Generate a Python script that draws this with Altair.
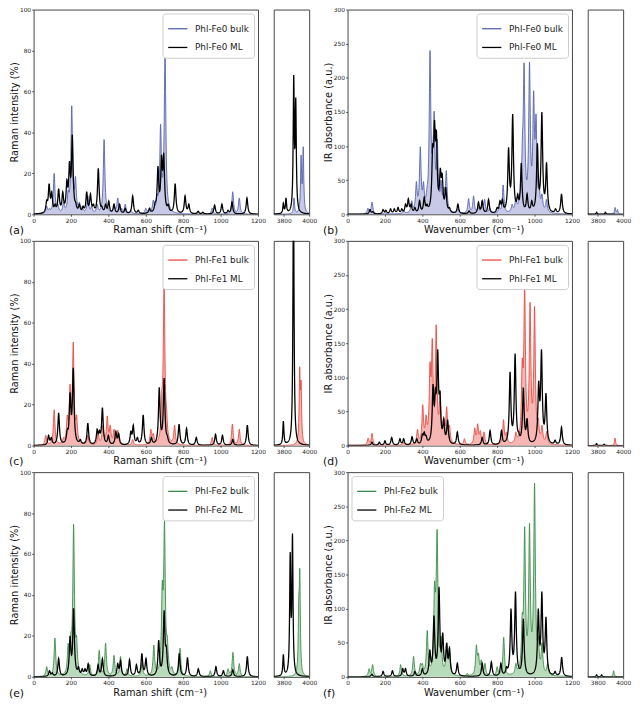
import numpy as np
import pandas as pd
import altair as alt

# ---------------- data: peak positions (cm-1) and heights ----------------
A_BULK_POS = [70, 85, 110, 130, 160, 185, 195, 204, 224, 245, 260, 290, 310, 340, 377, 395, 430, 450, 470, 490, 520, 600, 615, 640, 660, 679, 692, 703, 725, 955, 1065, 1100, 3880, 3936, 3953]
A_BULK_H = [4, 3, 20, 5, 6, 12, 15, 53, 18.5, 6, 4, 9, 4, 5, 36.5, 4, 5, 8, 3, 5, 2, 3, 2, 7, 10, 44, 20, 80, 5, 3, 11, 8, 8, 29, 33]
A_ML_POS = [70, 83, 97, 115, 134, 156, 178, 192, 207, 225, 245, 265, 284, 304, 320, 346, 365, 385, 402, 430, 460, 490, 530, 560, 620, 650, 665, 684, 696, 720, 757, 810, 830, 880, 905, 968, 1007, 1040, 1061, 1141, 3796, 3817, 3878, 3894]
A_ML_H = [7, 15, 11, 5, 12.5, 11, 17, 26, 39, 6, 5, 4, 11, 10, 5, 22.5, 4, 5, 6.5, 5, 5, 3, 9, 2, 3, 6, 23.5, 29, 30, 5, 15, 9, 5, 1.5, 1, 4.5, 5, 2, 6, 8, 5.5, 8, 68, 57]

B_BULK_POS = [109, 131, 200, 300, 343, 368, 389, 406, 425, 441, 455, 463, 480, 500, 515, 528, 590, 647, 674, 700, 720, 733, 760, 810, 832, 880, 900, 920, 935, 944, 960, 973, 985, 995, 1008, 1025, 1040, 1064, 3936, 3955]
B_BULK_H = [9, 18, 3, 6, 20, 48, 99, 48, 40, 240, 100, 151, 110, 50, 40, 64, 8, 23, 27, 10, 18, 22, 10, 10, 43, 15, 25, 30, 115, 222, 40, 223, 45, 181, 147, 40, 30, 22, 10, 7]
B_ML_POS = [120, 135, 190, 205, 230, 250, 270, 290, 310, 325, 340, 360, 385, 410, 425, 455, 465, 475, 496, 506, 525, 545, 590, 650, 700, 720, 754, 800, 815, 828, 861, 883, 910, 929, 960, 985, 1015, 1039, 1064, 1112, 1144, 3790, 3860]
B_ML_H = [7, 4, 7, 6, 8, 8, 10, 8, 15, 23, 15, 10, 20, 25, 15, 103, 138, 123, 68, 60, 40, 10, 15, 5, 18, 20, 22, 10, 20, 22, 98, 147, 30, 75, 30, 20, 104, 150, 76, 8, 30, 3, 3]

C_BULK_POS = [65, 110, 160, 180, 195, 212, 230, 290, 345, 370, 394, 410, 430, 450, 530, 627, 640, 686, 698, 711, 754, 955, 1063, 1100, 3925, 3936]
C_BULK_H = [5, 17.5, 4, 15, 30, 50.5, 15, 5, 6, 10, 14.5, 10, 8, 7.5, 3, 8, 6, 27, 80, 18.5, 10, 4, 10.5, 8, 38.5, 32]
C_ML_POS = [80, 95, 134, 180, 195, 212, 250, 290, 340, 352, 368, 400, 440, 455, 520, 533, 555, 586, 630, 672, 698, 715, 778, 818, 870, 973, 1010, 1065, 1143, 3796, 3876]
C_ML_H = [5, 4, 16, 8, 26, 38, 3, 11, 8, 7.5, 18.5, 5, 7, 6, 7, 10, 4, 15, 4, 28.5, 33, 5, 10.5, 8.5, 4, 5.5, 5, 3, 10, 12, 130]

D_BULK_POS = [110, 131, 200, 300, 374, 402, 420, 441, 453, 474, 495, 515, 530, 545, 625, 680, 696, 710, 730, 834, 850, 900, 934, 947, 960, 976, 988, 1000, 1020, 1040, 1065, 3936]
D_BULK_H = [11, 18, 3, 5, 24, 60, 45, 123, 157, 177, 80, 40, 57, 30, 10, 26, 32, 22, 20, 38, 20, 20, 128, 235, 45, 210, 50, 204, 40, 30, 21, 11]
D_ML_POS = [130, 170, 200, 236, 280, 300, 345, 370, 400, 410, 420, 457, 470, 482, 494, 514, 535, 587, 720, 762, 823, 869, 896, 915, 940, 960, 1022, 1037, 1061, 1110, 1144, 3790, 3850]
D_ML_H = [5, 5, 7, 12, 10, 10, 13, 10, 17, 20, 15, 90, 85, 141, 80, 40, 38, 20, 12, 22, 22, 108, 135, 20, 85, 40, 95, 141, 77, 8, 27, 3, 2]

E_BULK_POS = [70, 114, 185, 200, 214, 230, 300, 351, 385, 430, 465, 500, 580, 643, 688, 700, 715, 740, 783, 945, 1040, 1066, 1100, 3918, 3926]
E_BULK_H = [5, 19, 16.5, 22, 74.5, 20, 6, 13, 16.5, 10.5, 10, 4, 7, 15.5, 47, 76.5, 20, 5, 14, 3, 4, 12, 6.5, 40, 53]
E_ML_POS = [85, 100, 134, 195, 214, 240, 260, 275, 292, 345, 368, 450, 465, 513, 550, 579, 601, 669, 698, 710, 779, 823, 881, 975, 1015, 1065, 1143, 3796, 3850, 3868]
E_ML_H = [3, 2, 9, 20, 33.5, 5, 4, 4, 6.5, 6, 9, 6.5, 8, 8.5, 6, 11.5, 9, 18, 32.5, 15, 11.5, 9.5, 4, 5, 3, 3.5, 10, 11, 61, 70]

F_BULK_POS = [115, 134, 284, 353, 390, 400, 426, 465, 472, 479, 500, 530, 545, 640, 689, 700, 715, 735, 800, 835, 900, 934, 947, 960, 973, 988, 1000, 1020, 1040, 1070, 3925]
F_BULK_H = [12, 18, 18, 30, 20, 20, 68, 140, 130, 216, 60, 50, 45, 5, 47, 35, 25, 20, 15, 58, 20, 93, 220, 60, 225, 70, 284, 60, 50, 20, 9]
F_ML_POS = [130, 190, 240, 295, 310, 360, 400, 440, 462, 489, 509, 530, 545, 587, 720, 769, 820, 850, 874, 898, 940, 1020, 1039, 1061, 1110, 1145, 3790, 3830]
F_ML_H = [4, 8, 9, 12, 12, 8, 12, 40, 90, 132, 65, 50, 42, 20, 20, 22, 20, 15, 100, 125, 85, 100, 125, 88, 8, 29, 3, 3]

SAMPLES = ["Phl-Fe0", "Phl-Fe1", "Phl-Fe2"]
LINE_COLORS = ["#5461ab", "#e8483e", "#3d8a4b"]
FILL_COLORS = ["#c8c9e7", "#f7b6b3", "#b8dbbb"]
RAMAN_TICKS = [0, 20, 40, 60, 80, 100]
IR_TICKS = [0, 50, 100, 150, 200, 250, 300]
X_TICKS = [0, 200, 400, 600, 800, 1000, 1200]
NARROW_TICKS = [3800, 4000]

# ---------------- layout / style ----------------
W, WN, H = 228, 36, 208
GAMMA = 5.0
XMAIN = np.arange(0, 1200.5, 1.0)
XNAR = np.arange(3720, 4000.5, 1.0)
FONT = "DejaVu Sans"


def lorentz(d):
    return GAMMA ** 2 / (d ** 2 + GAMMA ** 2)


def spectrum(pos, h, grid):
    p = np.asarray(pos, float)
    hh = np.asarray(h, float)
    # amplitudes chosen so the summed curve passes through the read peak heights
    A = lorentz(p[:, None] - p[None, :])
    a = hh.copy()
    for _ in range(300):
        a = a * hh / (A @ a)
    return (a[:, None] * lorentz(grid[None, :] - p[:, None])).sum(0)


def frame(pos, h, grid, name):
    return pd.DataFrame({"x": grid, "y": np.round(spectrum(pos, h, grid), 3), "s": name})


def panel(letter, bulk, ml, idx, kind, legend_orient):
    names = [SAMPLES[idx] + " bulk", SAMPLES[idx] + " ML"]
    lc, fc = LINE_COLORS[idx], FILL_COLORS[idx]
    if kind == "raman":
        ymax, yt, ytitle, xtitle = 100, RAMAN_TICKS, "Raman intensity (%)", "Raman shift (cm\u207b\u00b9)"
    else:
        ymax, yt, ytitle, xtitle = 300, IR_TICKS, "IR absorbance (a.u.)", "Wavenumber (cm\u207b\u00b9)"

    bm = frame(bulk[0], bulk[1], XMAIN, names[0])
    mm = frame(ml[0], ml[1], XMAIN, names[1])
    bn = frame(bulk[0], bulk[1], XNAR, names[0])
    mn = frame(ml[0], ml[1], XNAR, names[1])

    x = alt.X("x:Q", scale=alt.Scale(domain=[0, 1200], nice=False, zero=False),
              axis=alt.Axis(values=X_TICKS, title=None, labelFlush=False, format="d"))
    y = alt.Y("y:Q", scale=alt.Scale(domain=[0, ymax], nice=False),
              axis=alt.Axis(values=yt, title=ytitle, labelFlush=False, format="d"))
    color = alt.Color("s:N", scale=alt.Scale(domain=names, range=[lc, "#000000"]),
                      legend=alt.Legend(title=None, orient=legend_orient, offset=4, padding=5,
                                        fillColor="white", strokeColor="#cccccc", cornerRadius=3,
                                        symbolType="stroke", symbolSize=380, symbolStrokeWidth=1.3,
                                        labelFontSize=9, labelFont=FONT, labelColor="#222222",
                                        rowPadding=3, labelOffset=7))
    area = alt.Chart(bm).mark_area(color=fc, clip=True).encode(x=x, y=y)
    bl = alt.Chart(bm).mark_line(clip=True, strokeWidth=0.9).encode(x=x, y=y, color=color)
    ml_ = alt.Chart(mm).mark_line(clip=True, strokeWidth=1.3).encode(x=x, y=y, color=color)
    txt = pd.DataFrame({"t": ["(" + letter + ")", xtitle], "k": ["letter", "title"]})
    lab = alt.Chart(txt).transform_filter(alt.datum.k == "letter").mark_text(
        align="left", baseline="middle", fontSize=11, font=FONT, color="#111111"
    ).encode(text="t:N", x=alt.value(-25), y=alt.value(H + 17))
    xt = alt.Chart(txt).transform_filter(alt.datum.k == "title").mark_text(
        align="center", baseline="middle", fontSize=10, font=FONT, color="#111111"
    ).encode(text="t:N", x=alt.value(W * 0.564), y=alt.value(H + 16))
    main = alt.layer(area, bl, ml_, lab, xt).properties(width=W, height=H)

    xn = alt.X("x:Q", scale=alt.Scale(domain=[3720, 4000], nice=False, zero=False),
               axis=alt.Axis(values=NARROW_TICKS, title=None, labelFlush=False, format="d"))
    yn = alt.Y("y:Q", scale=alt.Scale(domain=[0, ymax], nice=False), axis=None)
    an = alt.Chart(bn).mark_area(color=fc, clip=True).encode(x=xn, y=yn)
    bln = alt.Chart(bn).mark_line(clip=True, strokeWidth=0.9, color=lc).encode(x=xn, y=yn)
    mln = alt.Chart(mn).mark_line(clip=True, strokeWidth=1.3, color="#000000").encode(x=xn, y=yn)
    narrow = alt.layer(an, bln, mln).properties(width=WN, height=H)
    return main, narrow


specs = [
    ("a", (A_BULK_POS, A_BULK_H), (A_ML_POS, A_ML_H), 0, "raman", "top-right"),
    ("b", (B_BULK_POS, B_BULK_H), (B_ML_POS, B_ML_H), 0, "ir", "top-right"),
    ("c", (C_BULK_POS, C_BULK_H), (C_ML_POS, C_ML_H), 1, "raman", "top-right"),
    ("d", (D_BULK_POS, D_BULK_H), (D_ML_POS, D_ML_H), 1, "ir", "top-right"),
    ("e", (E_BULK_POS, E_BULK_H), (E_ML_POS, E_ML_H), 2, "raman", "top-right"),
    ("f", (F_BULK_POS, F_BULK_H), (F_ML_POS, F_ML_H), 2, "ir", "top-left"),
]

RES = dict(x="independent", y="independent", color="independent")
rows = []
for r in range(3):
    m1, n1 = panel(*specs[2 * r])
    m2, n2 = panel(*specs[2 * r + 1])
    left = alt.hconcat(m1, n1, spacing=6).resolve_scale(**RES)
    right = alt.hconcat(m2, n2, spacing=6).resolve_scale(**RES)
    rows.append(alt.hconcat(left, right, spacing=4).resolve_scale(**RES))

chart = alt.vconcat(*rows, spacing=0).resolve_scale(**RES).properties(
    padding={"left": 0, "top": -8, "right": 0, "bottom": 0}
).configure_view(
    stroke="#444444", strokeWidth=1
).configure_axis(
    grid=False, domain=False, labelFont=FONT, labelFontSize=6, labelColor="#222222",
    titleFont=FONT, titleFontSize=10, titleFontWeight="normal", titleColor="#111111",
    tickSize=2, tickColor="#333333", tickWidth=0.8, labelPadding=1, titlePadding=0
)

chart.save("out.html", embed_options={"renderer": "svg", "actions": False})
